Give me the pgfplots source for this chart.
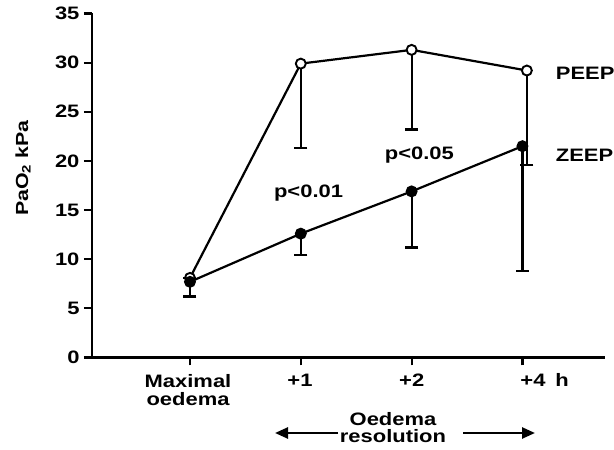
\documentclass[border=0pt]{standalone}
\usepackage{fontspec}
\setmainfont[FakeStretch=1.22]{Liberation Sans}
\usepackage{pgfplots}
\pgfplotsset{compat=1.18}
\usetikzlibrary{arrows.meta}
\newcommand{\lf}{\fontsize{18}{20}\selectfont\bfseries}
\newcommand{\yf}{\fontsize{17.5}{19}\selectfont\bfseries}
\begin{document}
\begin{tikzpicture}[x=1pt,y=1pt]
\useasboundingbox (0,0) rectangle (614,450);
\begin{axis}[
  at={(92pt,92.5pt)}, anchor=south west,
  scale only axis, width=513pt, height=344pt,
  xmin=-0.884, xmax=3.745, ymin=0, ymax=35,
  axis lines=left, axis line style={line width=2.2pt, -},
  clip=false,
  xtick={0,1,2,3}, xticklabels={},
  ytick={0,5,...,35},
  /pgf/number format/assume math mode=true,
  tick label style={font=\lf},
  tick style={line width=2.2pt, black},
  major tick length=8pt,
  tick align=outside,
  yticklabel style={xshift=-1pt},
]
\addplot[black, line width=2.2pt, mark=*, mark size=5pt,
  mark options={fill=white, line width=1.9pt},
  error bars/.cd, y dir=minus, y explicit,
  error bar style={line width=2.2pt},
  error mark options={rotate=90, mark size=6.5pt, line width=2.2pt}]
  coordinates {(0,8.1) +- (0,0) (1,29.9) +- (0,8.6) (2,31.3) +- (0,8.1) (3.04,29.2) +- (0,9.6)};
\addplot[black, line width=2.2pt, mark=*, mark size=5pt,
  mark options={fill=black, line width=1.9pt},
  error bars/.cd, y dir=minus, y explicit,
  error bar style={line width=2.2pt},
  error mark options={rotate=90, mark size=6.5pt, line width=2.2pt}]
  coordinates {(0,7.7) +- (0,1.5) (1,12.6) +- (0,2.2) (2,16.9) +- (0,5.7) (3,21.5) +- (0,12.7)};
\node[anchor=west, font=\lf] at (axis cs:3.27,28.9) {PEEP};
\node[anchor=west, font=\lf] at (axis cs:3.27,20.6) {ZEEP};
\node[font=\lf] at (axis cs:1.07,16.7) {p<0.01};
\node[font=\lf] at (axis cs:2.07,20.6) {p<0.05};
\end{axis}
\begin{scope}[every node/.style={font=\lf, inner sep=0pt}]
\node[align=center, font=\lf, inner sep=0pt] at (188,60) {Maximal\\[-2pt]oedema};
\node at (300,70) {+1};
\node at (411.7,70) {+2};
\node at (533,70) {+4};
\node at (562,70) {h};
\node[align=center] at (393,22.5) {Oedema\\[-3pt]resolution};
\node[rotate=90, font=\yf] at (23,282) {PaO\textsubscript{2} kPa};
\end{scope}
\draw[line width=2.5pt, -{Triangle[length=13pt,width=11pt]}] (338,17) -- (275,17);
\draw[line width=2.5pt, -{Triangle[length=13pt,width=11pt]}] (463,17) -- (535,17);
\end{tikzpicture}
\end{document}
